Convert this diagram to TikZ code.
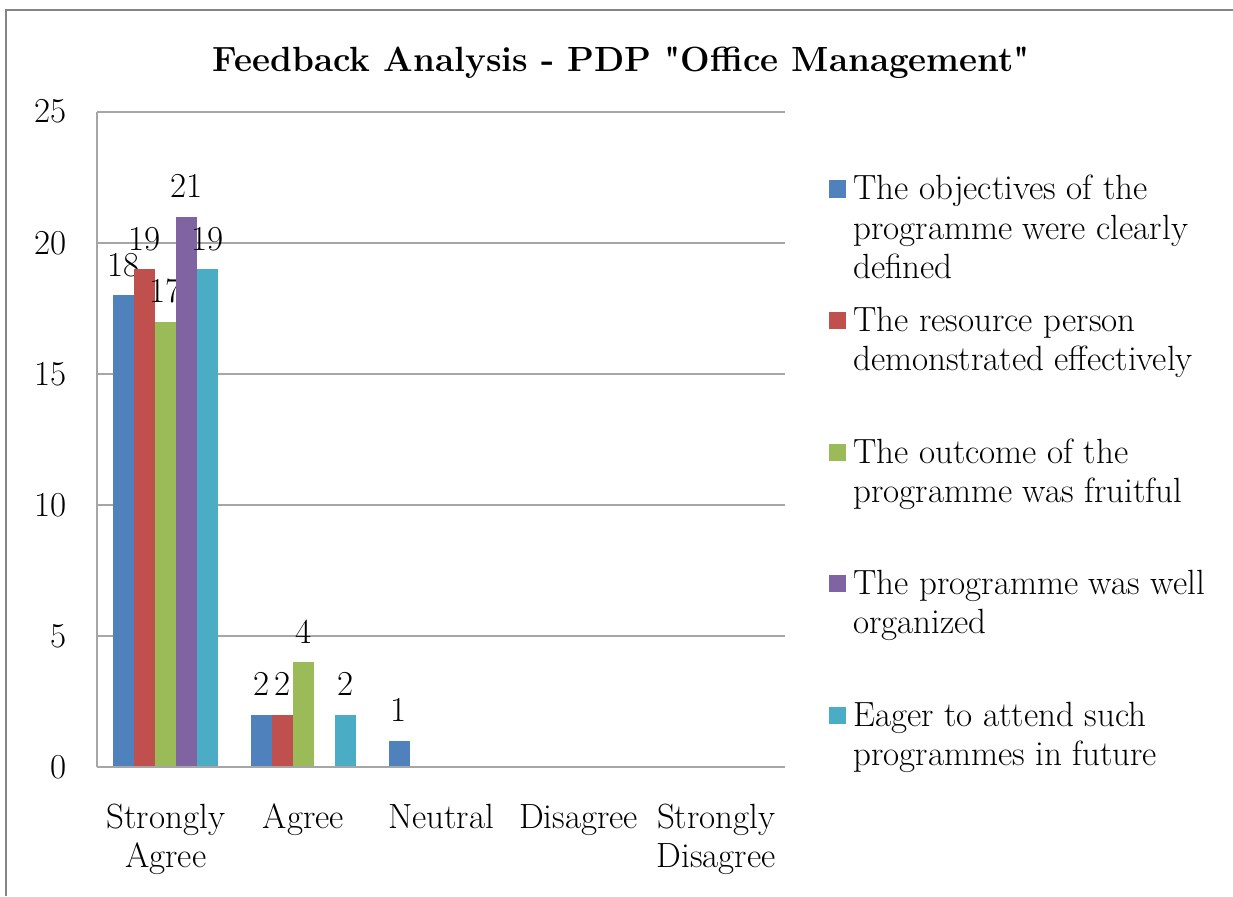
\documentclass[tikz,border=0pt]{standalone}
\usepackage{fontspec}
\definecolor{sblue}{HTML}{4F81BD}
\definecolor{sred}{HTML}{C0504D}
\definecolor{sgreen}{HTML}{9BBB59}
\definecolor{spurple}{HTML}{8064A2}
\definecolor{scyan}{HTML}{4BACC6}
\definecolor{gridgray}{HTML}{A6A6A6}
\definecolor{framegray}{HTML}{848484}
\font\titlequote="[lmroman12-bold]" at 35pt
\newcommand{\sq}{{\titlequote\char"22}}
\tikzset{
  grid line/.style={draw=gridgray, line width=1.5},
  frame line/.style={draw=framegray, line width=2.5},
  txt/.style={inner sep=0pt, font=\fontsize{35}{42}\selectfont},
  titletxt/.style={inner sep=0pt, font=\fontsize{35}{42}\selectfont\bfseries},
  lsq/.style={minimum size=17pt, inner sep=0pt, draw=none}
}
\begin{document}
\begin{tikzpicture}[x=1pt, y=-1pt]
\useasboundingbox (0,0) rectangle (1233,896);
\fill[white] (0,0) rectangle (1233,896);
% frame
\draw[frame line] (5,10) -- (1233,10);
\draw[frame line] (6,10) -- (6,896);
% title
\node[titletxt, anchor=base] (title) at (621.5,72) {Feedback Analysis - PDP \sq Office Management\sq};
% grid
\foreach \v/\n in {0/0,5/5,10/10,15/15,20/20,25/25}{
  \pgfmathsetmacro{\yy}{767-\v*26.2}
  \draw[grid line] (97,\yy) -- (785,\yy);
  \node[txt, anchor=base east] (ylab\n) at (67,\yy+11) {\v};
}
\draw[grid line] (97,112) -- (97,767);
% bars
\def\barw{21}
\newcommand{\mybar}[4]{% category, index, value, colour
  \pgfmathsetmacro{\xa}{97+#1*137.6+16.3+#2*\barw}
  \pgfmathsetmacro{\xb}{\xa+\barw}
  \pgfmathsetmacro{\yt}{767-#3*26.2}
  \fill[#4] (\xa,\yt) rectangle (\xb,767);
  \node[txt, anchor=base] (lab#1#2) at ({(\xa+\xb)/2},\yt-19) {#3};
}
\mybar{0}{0}{18}{sblue}
\mybar{0}{1}{19}{sred}
\mybar{0}{2}{17}{sgreen}
\mybar{0}{3}{21}{spurple}
\mybar{0}{4}{19}{scyan}
\mybar{1}{0}{2}{sblue}
\mybar{1}{1}{2}{sred}
\mybar{1}{2}{4}{sgreen}
\mybar{1}{4}{2}{scyan}
\mybar{2}{0}{1}{sblue}
\draw[grid line] (97,767) -- (785,767);
% x labels
\node[txt, anchor=base] (xa1) at (165.8,828) {Strongly};
\node[txt, anchor=base] (xa2) at (165.8,867) {Agree};
\node[txt, anchor=base] (xb1) at (303.4,828) {Agree};
\node[txt, anchor=base] (xc1) at (441,828) {Neutral};
\node[txt, anchor=base] (xd1) at (578.6,828) {Disagree};
\node[txt, anchor=base] (xe1) at (716.2,828) {Strongly};
\node[txt, anchor=base] (xe2) at (716.2,867) {Disagree};
% legend
\node[lsq, fill=sblue] (sq1) at (837,189) {};
\node[txt, anchor=base west] (l1a) at (853,200) {The objectives of the};
\node[txt, anchor=base west] (l1b) at (853,239) {programme were clearly};
\node[txt, anchor=base west] (l1c) at (853,278) {defined};
\node[lsq, fill=sred] (sq2) at (837,320.5) {};
\node[txt, anchor=base west] (l2a) at (853,331.5) {The resource person};
\node[txt, anchor=base west] (l2b) at (853,370.5) {demonstrated effectively};
\node[lsq, fill=sgreen] (sq3) at (837,452) {};
\node[txt, anchor=base west] (l3a) at (853,463) {The outcome of the};
\node[txt, anchor=base west] (l3b) at (853,502) {programme was fruitful};
\node[lsq, fill=spurple] (sq4) at (837,583.5) {};
\node[txt, anchor=base west] (l4a) at (853,594.5) {The programme was well};
\node[txt, anchor=base west] (l4b) at (853,633.5) {organized};
\node[lsq, fill=scyan] (sq5) at (837,715) {};
\node[txt, anchor=base west] (l5a) at (853,726) {Eager to attend such};
\node[txt, anchor=base west] (l5b) at (853,765) {programmes in future};
\end{tikzpicture}
\end{document}
